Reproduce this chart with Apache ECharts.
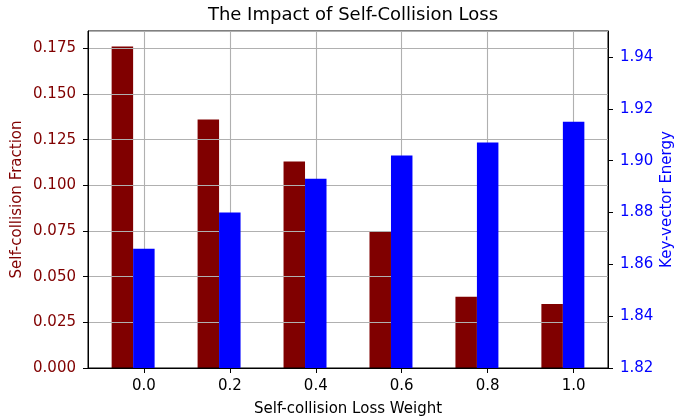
<!DOCTYPE html>
<html>
<head>
<meta charset="utf-8">
<script src="https://cdn.jsdelivr.net/npm/echarts@6/dist/echarts.min.js"></script>
<style>
  html, body { margin: 0; padding: 0; background: #fff; }
  #chart { width: 689px; height: 418px; }
</style>
</head>
<body>
<div id="chart"></div>
<script>
const weights = [0.0, 0.2, 0.4, 0.6, 0.8, 1.0];
const collisionFraction = [0.176, 0.136, 0.113, 0.0745, 0.039, 0.035];
const keyVectorEnergy = [1.866, 1.880, 1.893, 1.902, 1.907, 1.915];
const barStep = 0.05;

const FONT = "DejaVu Sans";
const plot = { left: 88, right: 81, top: 31, bottom: 50 };
const xMin = -0.13, xMax = 1.08;
const plotW = 689 - plot.left - plot.right;
const barPx = barStep * plotW / (xMax - xMin);

const chart = echarts.init(document.getElementById("chart"));

const spine = { show: true, onZero: false, lineStyle: { color: "#000", width: 1 } };
const tick = { show: true, length: 5, lineStyle: { color: "#000", width: 1 } };

chart.setOption({
  animation: false,
  title: {
    text: "The Impact of Self-Collision Loss",
    left: 348, top: 1, textAlign: "center",
    textStyle: { fontFamily: FONT, fontSize: 18, fontWeight: "normal", color: "#000" },
  },
  grid: {
    left: plot.left, right: plot.right, top: plot.top, bottom: plot.bottom,
    outerBoundsMode: "none",
    show: true, borderColor: "#000", borderWidth: 1, backgroundColor: "transparent",
  },
  xAxis: {
    type: "value", min: xMin, max: xMax,
    name: "Self-collision Loss Weight", nameLocation: "middle", nameGap: 34,
    nameTextStyle: { fontFamily: FONT, fontSize: 15, color: "#000" },
    axisLine: spine,
    axisTick: Object.assign({ customValues: weights }, tick),
    axisLabel: {
      customValues: weights, margin: 11,
      fontFamily: FONT, fontSize: 15, color: "#000",
      formatter: v => v.toFixed(1),
    },
    splitLine: { show: true, lineStyle: { color: "#b0b0b0", width: 1.1 } },
  },
  yAxis: [
    {
      type: "value", min: 0, max: 0.1845, interval: 0.025, position: "left",
      name: "Self-collision Fraction", nameLocation: "middle", nameGap: 63,
      nameMoveOverlap: false,
      nameTextStyle: { fontFamily: FONT, fontSize: 15, color: "#800000" },
      axisLine: spine,
      axisTick: tick,
      axisLabel: {
        margin: 12, showMaxLabel: false,
        fontFamily: FONT, fontSize: 15, color: "#800000",
        formatter: v => v.toFixed(3),
      },
      splitLine: { show: true, lineStyle: { color: "#b0b0b0", width: 1.1 } },
    },
    {
      type: "value", min: 1.82, max: 1.95, interval: 0.02, position: "right",
      name: "Key-vector Energy", nameLocation: "middle", nameGap: 52,
      nameMoveOverlap: false,
      nameTextStyle: { fontFamily: FONT, fontSize: 15, color: "#0000ff" },
      axisLine: spine,
      axisTick: tick,
      axisLabel: {
        margin: 12, showMaxLabel: false,
        fontFamily: FONT, fontSize: 15, color: "#0000ff",
        formatter: v => v.toFixed(2),
      },
      splitLine: { show: false },
    },
  ],
  series: [
    {
      type: "bar", name: "Self-collision Fraction", yAxisIndex: 0, z: -1,
      barWidth: barPx, barGap: "-100%",
      itemStyle: { color: "#800000" },
      data: weights.map((w, i) => [w - barStep, collisionFraction[i]]),
    },
    {
      type: "bar", name: "Key-vector Energy", yAxisIndex: 1, z: 3,
      barWidth: barPx, barGap: "-100%",
      itemStyle: { color: "#0000ff" },
      data: weights.map((w, i) => [w, keyVectorEnergy[i]]),
    },
  ],
});
</script>
</body>
</html>
